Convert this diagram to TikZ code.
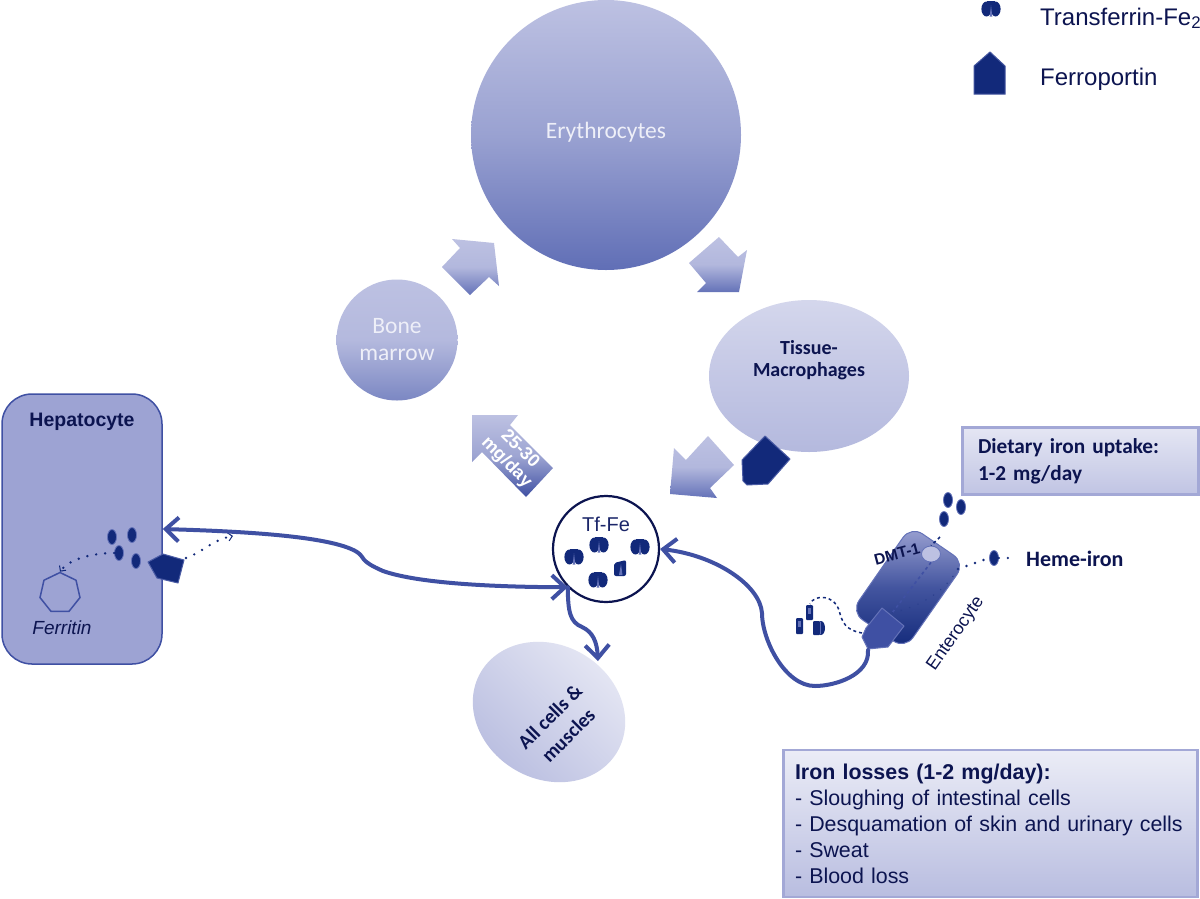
\documentclass[tikz,border=0pt]{standalone}
\usepackage{fontspec}
\setmainfont{Liberation Sans}
\newfontfamily\calibrilike{Carlito}
\usetikzlibrary{arrows.meta,shapes.geometric}

\definecolor{inkblue}{HTML}{0C1450}
\definecolor{fpnblue}{HTML}{12297A}
\definecolor{flowblue}{HTML}{3F50A3}
\definecolor{paleblue}{HTML}{BDC1E2}
\definecolor{midblue}{HTML}{6472B8}
\definecolor{hepblue}{HTML}{9DA3D3}
\definecolor{boxedge}{HTML}{A3A8D6}

\tikzset{
    flowline/.style={line width=4pt, flowblue, line cap=round,
        >={Straight Barb[length=13pt, width=24pt, line width=4pt]}},
    dotline/.style={line width=2.6pt, fpnblue, line cap=round, dash pattern=on 0pt off 9pt},
    dotarrow/.style={dotline, -{Straight Barb[length=4pt, width=8pt, line width=1pt]}},
    ironoval/.style={ellipse, fill=fpnblue, draw=midblue, line width=0.8pt, minimum width=9pt, minimum height=15pt, inner sep=0pt},
    blockarrow/.style={top color=paleblue, bottom color=midblue, middle color=paleblue!88!midblue},
    fpnshape/.style={fill=fpnblue, draw=midblue!70!fpnblue, line width=1pt, line join=round},
    bigcell/.style={circle, inner sep=0pt, align=center, text=paleblue!25!white, font=\calibrilike\fontsize{23.5}{27}\selectfont},
    textbox/.style={rectangle, draw=boxedge, line width=2.5pt, inner sep=0pt, text=inkblue, align=left},
    tfdimer/.pic={
        \fill[fpnblue] (-4.6,0) ellipse [x radius=5, y radius=7.5];
        \fill[fpnblue] (4.6,0) ellipse [x radius=5, y radius=7.5];
        \fill[fpnblue] (-4,-8) rectangle (4,0);
        \fill[midblue] (-1.3,7.5) -- (0,-4) -- (1.3,7.5) -- cycle;
    },
    tfhalf/.pic={
        \fill[fpnblue, rounded corners=2pt] (-6,-5) -- (6,-8) -- (6,8) -- (-6,8) -- cycle;
        \fill[midblue] (-1,7) -- (1,-4) -- (2.5,7) -- cycle;
    },
}

\begin{document}
\begin{tikzpicture}[x=1pt, y=-1pt]
    \path[use as bounding box, fill=white] (0,0) rectangle (1200,898);

    % Red cell cycle
    \node[bigcell, minimum size=270pt, top color=paleblue, bottom color=midblue!90!flowblue, middle color=paleblue!60!midblue] (erythrocytes) at (606,135) {};
    \node[bigcell, anchor=center] (erytext) at (606,132) {Erythrocytes};
    \node[bigcell, minimum size=121pt, top color=paleblue, bottom color=midblue!85!white, middle color=paleblue!90!midblue] (marrow) at (397,340) {Bone\\marrow};
    \node[ellipse, minimum width=200pt, minimum height=152pt, inner sep=0pt, top color=paleblue!65!white, bottom color=paleblue!90!midblue, middle color=paleblue!90!white] (macrophages) at (809,376) {};
    \node[align=center, text=inkblue, font=\calibrilike\bfseries\fontsize{20}{22}\selectfont] (macrotext) at (809,360) {Tissue-\\Macrophages};

    % Block arrows between the pools
    \shade[blockarrow] (452,239) -- (494,243) -- (499,286) -- (489,277) -- (470,295) -- (442,267) -- (460,248) -- cycle;
    \shade[blockarrow] (719,237) -- (738,257) -- (747,250) -- (739,292) -- (697,292) -- (706,283) -- (689,263) -- cycle;
    \shade[blockarrow] (708,436) -- (734,465) -- (710,488) -- (717,498) -- (670,494) -- (674,448) -- (686,460) -- cycle;
    \shade[top color=paleblue, bottom color=flowblue, middle color=paleblue!75!flowblue] (472,415) -- (518,415) -- (510,425) -- (553,468) -- (526,497) -- (482,452) -- (472,462) -- cycle;
    \node[rotate=-45, align=center, text=white, font=\bfseries\fontsize{18}{19}\selectfont] (dailyflow) at (513,456) {25-30\\mg/day};

    % Macrophage ferroportin
    \draw[fpnshape] (765,436) -- (790,459) -- (768,484) -- (747,485) -- (743,481) -- (742,460) -- cycle;

    % Liver
    \node[rectangle, rounded corners=30pt, minimum width=160pt, minimum height=270pt, fill=hepblue, draw=flowblue, line width=1.5pt] (hepatocyte) at (82,529) {};
    \node[text=inkblue, font=\bfseries\fontsize{19.5}{23}\selectfont] (heptext) at (82,422) {Hepatocyte};
    \node[regular polygon, regular polygon sides=7, minimum size=41pt, inner sep=0pt, draw=flowblue, line width=1.5pt] (ferritin) at (60,593) {};
    \node[text=inkblue, font=\itshape\fontsize{19}{22}\selectfont] (ferritintext) at (62,628) {Ferritin};
    \node[ironoval] (hepiron1) at (112,537) {};
    \node[ironoval] (hepiron2) at (132,535) {};
    \node[ironoval] (hepiron3) at (119,553) {};
    \node[ironoval] (hepiron4) at (136,561) {};
    \draw[fpnshape] (148,562) -- (163,554) -- (184,560) -- (178,583) -- (157,578) -- cycle;
    \coordinate (hepfpn) at (186,558);
    \coordinate (hepfree) at (233,536);
    \draw[dotarrow] (hepiron3) .. controls (95,553) and (70,558) .. (ferritin.north);
    \draw[dotarrow] (hepfpn) .. controls (203,552) and (212,540) .. (hepfree);

    % Plasma pool
    \node[circle, minimum size=106pt, inner sep=0pt, draw=inkblue, line width=2.2pt] (tffe) at (606,549) {};
    \node[text=inkblue!70!flowblue, font=\fontsize{20}{24}\selectfont] (tffetext) at (606,524) {Tf-Fe};
    \pic at (574,557) {tfdimer};
    \pic at (599,545) {tfdimer};
    \pic at (640,547) {tfdimer};
    \pic at (620,568) {tfhalf};
    \pic at (598,580) {tfdimer};

    % Peripheral tissues
    \node[ellipse, minimum width=158pt, minimum height=134pt, inner sep=0pt, rotate=-30, shading=axis, top color=paleblue!35!white, bottom color=paleblue!95!midblue, shading angle=-45] (allcells) at (549,712) {};
    \node[rotate=45, align=center, text=inkblue, font=\calibrilike\bfseries\fontsize{20}{26}\selectfont] (cellstext) at (559,726) {All cells \&\\muscles};
    \coordinate (cellsin) at (598,661);

    % Enterocyte
    \shade[top color=hepblue, bottom color=fpnblue, middle color=midblue!60!fpnblue, rounded corners=14pt] (911,526) -- (965,563) -- (905,649) -- (851,612) -- cycle;
    \draw[midblue, line width=1pt, rounded corners=14pt] (911,526) -- (965,563) -- (905,649) -- (851,612) -- cycle;
    \node[ellipse, minimum width=19pt, minimum height=16pt, inner sep=0pt, fill=paleblue, draw=midblue, line width=0.8pt] (dmtpore) at (931,554) {};
    \node[rotate=15, text=inkblue, font=\bfseries\fontsize{15.5}{18}\selectfont] (dmttext) at (897,554) {DMT-1};
    \node[ironoval] (dietiron1) at (948,500) {};
    \node[ironoval] (dietiron2) at (961,507) {};
    \node[ironoval] (dietiron3) at (944,519) {};
    \node[ironoval] (hemeiron) at (994,558) {};
    \coordinate (lumen) at (940,537);
    \coordinate (basal) at (892,613);
    \coordinate (hemein) at (958,569);
    \coordinate (hemeend) at (1010,558);
    \draw[fpnblue, line width=1.6pt, dashed] (lumen) -- (dmtpore.north);
    \draw[flowblue, line width=1.6pt, dashed] (dmtpore.south) -- (basal);
    \draw[dotline] (hemein) -- (hemeiron.west);
    \draw[dotline] (hemeiron.east) -- (hemeend);
    \draw[dotline, fpnblue!70!midblue, line width=1.6pt] (hemein) .. controls (945,590) and (925,605) .. (basal);
    \draw[fill=flowblue, draw=midblue, line width=1pt, line join=round] (882,608) -- (904,626) -- (888,647) -- (868,649) -- (862,637) -- (866,628) -- cycle;
    \coordinate (entfpn) at (868,650);
    \coordinate (entdash) at (862,633);
    \coordinate (tfloose) at (810,604);
    \draw[fpnblue, line width=1.5pt, dashed] (entdash) .. controls (845,630) and (842,622) .. (839,610) .. controls (835,596) and (815,593) .. (tfloose);
    \fill[fpnblue, rounded corners=1pt] (796,618) rectangle (803,634);
    \fill[midblue] (798,621) rectangle (801,627);
    \fill[fpnblue, rounded corners=1pt] (806,605) rectangle (813,620);
    \fill[midblue] (808,608) rectangle (811,614);
    \fill[fpnblue, rounded corners=1pt] (813,621) rectangle (820,635);
    \fill[fpnblue] (821,628) ellipse [x radius=4, y radius=7];
    \fill[midblue] (820,622) rectangle (821,634);
    \node[rotate=55, text=inkblue, font=\fontsize{18}{22}\selectfont] (entertext) at (956,634) {Enterocyte};
    \node[anchor=west, inner sep=0pt, text=inkblue, font=\calibrilike\bfseries\fontsize{22}{24}\selectfont] (hemetext) at (1026,559) {Heme-iron};

    % Iron flows
    \draw[flowline, <->] (hepatocyte.east) .. controls (230,531) and (330,535) .. (357,552) .. controls (366,558) and (358,560) .. (383,571) .. controls (420,584) and (500,587) .. (tffe.225);
    \draw[flowline, ->] (tffe.225) .. controls (568,612) and (570,622) .. (582,627) .. controls (593,632) and (597,642) .. (cellsin);
    \draw[flowline, ->] (entfpn) .. controls (870,675) and (835,686) .. (815,686) .. controls (785,686) and (762,640) .. (762,613) .. controls (760,585) and (715,555) .. (tffe.east);

    % Text boxes
    \node[textbox, minimum width=236pt, minimum height=67pt, top color=paleblue!40!white, bottom color=paleblue!95!white, text width=205pt, font=\calibrilike\bfseries\fontsize{21.3}{27}\selectfont] (uptake) at (1080.5,461) {Dietary iron uptake:\\1-2 mg/day};
    \node[textbox, minimum width=414pt, minimum height=147pt, top color=paleblue!30!white, bottom color=paleblue!95!midblue, text width=391pt, font=\fontsize{21.4}{26}\selectfont] (losses) at (990.5,823.5) {\textbf{Iron losses (1-2 mg/day):}\\- Sloughing of intestinal cells\\- Desquamation of skin and urinary cells\\- Sweat\\- Blood loss};

    % Legend
    \pic at (991,9) {tfdimer};
    \draw[fill=fpnblue, draw=midblue!60!fpnblue, line width=1pt] (990,52) -- (1005,66) -- (1005,94) -- (974,94) -- (974,66) -- cycle;
    \node[anchor=base west, inner sep=0pt, text=inkblue, font=\fontsize{24}{28}\selectfont] (tflegend) at (1040,25) {Transferrin-Fe\textsubscript{2}};
    \node[anchor=base west, inner sep=0pt, text=inkblue, font=\fontsize{24}{28}\selectfont] (fpnlegend) at (1040,85) {Ferroportin};
\end{tikzpicture}
\end{document}
